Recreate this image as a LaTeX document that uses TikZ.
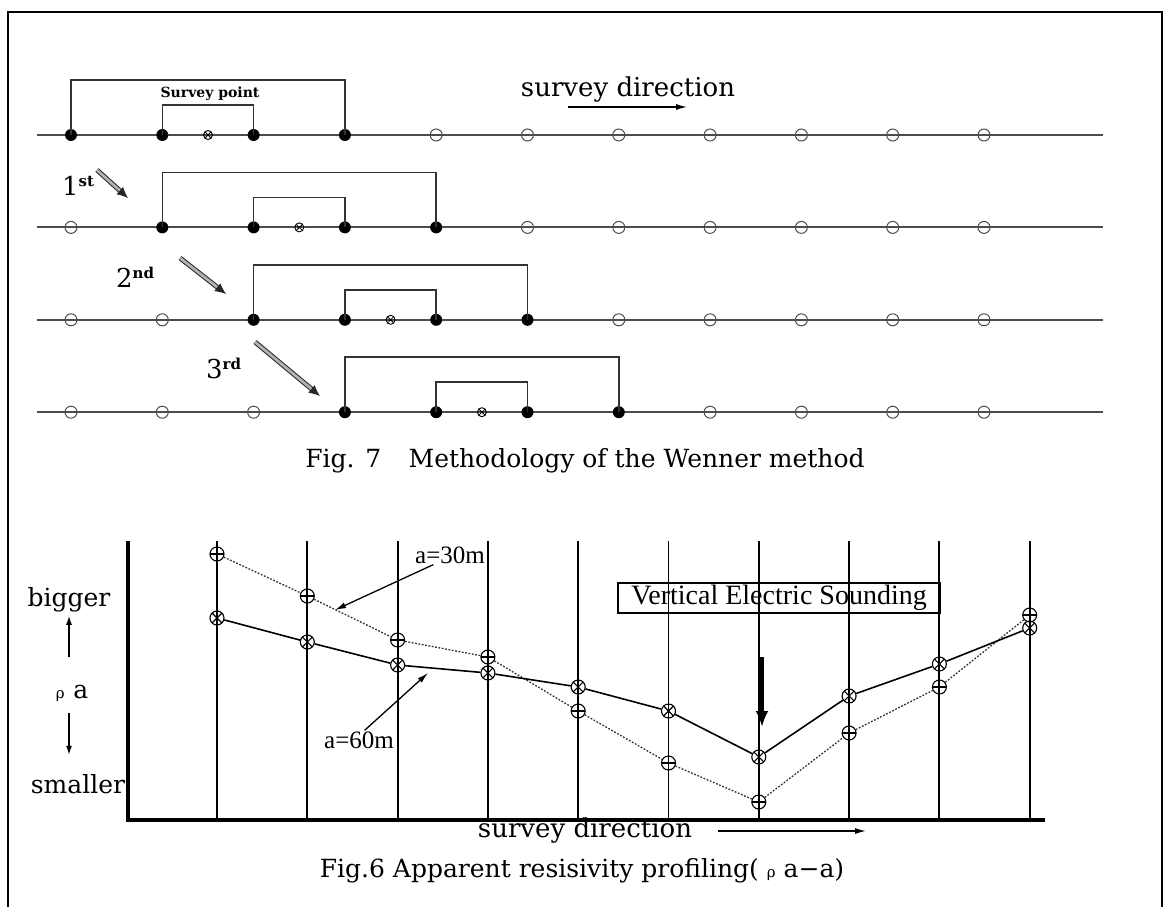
\documentclass[tikz,border=0pt]{standalone}
\usepackage{fontspec}
\setmainfont{DejaVu Serif}
\newfontfamily\tmsfont{Liberation Serif}
\usetikzlibrary{arrows.meta}

\begin{document}
\begin{tikzpicture}[x=1pt,y=-1pt,
  wire/.style={draw=black!70, line width=2pt},
  bracket/.style={draw=black!80, line width=1.5pt},
  elecon/.style={circle, fill=black, inner sep=0pt, minimum size=12pt},
  elecoff/.style={circle, draw=black!70, line width=1pt, inner sep=0pt, minimum size=12pt},
  spoint/.style={circle, draw, line width=0.9pt, inner sep=0pt, minimum size=9pt,
    path picture={\draw[line width=0.8pt] (path picture bounding box.south west) -- (path picture bounding box.north east)
      (path picture bounding box.north west) -- (path picture bounding box.south east);}},
  hollowarrow/.style={draw=black!85, line width=1pt, double=black!30, double distance=2.8pt, -{Latex[length=11pt,width=10pt]}},
  thinarrow/.style={line width=1.3pt, -{Latex[length=11pt,width=6pt]}},
  axisline/.style={line width=3.5pt},
  gridline/.style={line width=1.9pt},
  amark/.style={circle, draw, line width=1.1pt, inner sep=0pt, minimum size=14pt,
    path picture={\draw[line width=1.1pt] (path picture bounding box.west) -- (path picture bounding box.east);}},
  bmark/.style={circle, draw, line width=1.1pt, inner sep=0pt, minimum size=14pt,
    path picture={\draw[line width=1.1pt] (path picture bounding box.south west) -- (path picture bounding box.north east)
      (path picture bounding box.north west) -- (path picture bounding box.south east);}},
  dotline/.style={draw=black!80, line width=1.3pt, dash pattern=on 1.8pt off 1.6pt},
  fullline/.style={line width=1.6pt},
]
\useasboundingbox (0,0) rectangle (1165,907);
\draw[line width=1.5pt] (8,907) -- (8,12) -- (1162,12) -- (1162,907);

\foreach \r in {0,...,3}{
  \pgfmathsetmacro\yy{135+92.4*\r}
  \coordinate (L\r) at (37,\yy);
  \coordinate (R\r) at (1103,\yy);
  \draw[wire] (L\r) -- (R\r);
  \foreach \i in {0,...,10}{
    \pgfmathtruncatemacro\on{(\i>=\r)&&(\i<=\r+3)}
    \ifnum\on=1
      \node[elecon] (e\r-\i) at (71+91.3*\i,\yy) {};
    \else
      \node[elecoff] (e\r-\i) at (71+91.3*\i,\yy) {};
    \fi
  }
  \pgfmathtruncatemacro\ia{\r+1}
  \pgfmathtruncatemacro\ib{\r+2}
  \pgfmathtruncatemacro\ic{\r+3}
  \draw[bracket] (e\r-\r.center) -- ++(0,-55) -| (e\r-\ic.center);
  \draw[bracket] (e\r-\ia.center) -- ++(0,-30) -| (e\r-\ib.center);
  \node[spoint] (sp\r) at (71+91.3*\r+137,\yy) {};
}

\node[font=\bfseries\fontsize{14}{15}\selectfont] (sptext) at (210,94) {Survey point};
\node[font=\fontsize{26}{28}\selectfont] (dir1) at (628,90) {survey direction};
\coordinate (d1a) at (568,107);
\coordinate (d1b) at (687,107);
\draw[thinarrow] (d1a) -- (d1b);

\node[anchor=base west, inner sep=0pt, font=\fontsize{26}{28}\selectfont] (o1) at (62,195) {1\raisebox{9pt}{\bfseries\fontsize{15}{15}\selectfont st}};
\node[anchor=base west, inner sep=0pt, font=\fontsize{26}{28}\selectfont] (o2) at (116,287) {2\raisebox{9pt}{\bfseries\fontsize{15}{15}\selectfont nd}};
\node[anchor=base west, inner sep=0pt, font=\fontsize{26}{28}\selectfont] (o3) at (206,378) {3\raisebox{9pt}{\bfseries\fontsize{15}{15}\selectfont rd}};
\coordinate (s1a) at (97,170);
\coordinate (s1b) at (128,198);
\coordinate (s2a) at (180,258);
\coordinate (s2b) at (226,294);
\coordinate (s3a) at (255,342);
\coordinate (s3b) at (320,396);
\draw[hollowarrow] (s1a) -- (s1b);
\draw[hollowarrow] (s2a) -- (s2b);
\draw[hollowarrow] (s3a) -- (s3b);

\node[font=\fontsize{25}{27}\selectfont] (cap7) at (585,461) {Fig. 7\hspace{1.1em}Methodology of the Wenner method};

\coordinate (O) at (128,820);
\coordinate (yt) at (128,541);
\coordinate (xr) at (1045,820);
\foreach \k in {0,...,9}{
  \coordinate (gt\k) at (217+90.3*\k,541);
  \coordinate (gb\k) at (217+90.3*\k,820);
  \draw[gridline] (gt\k) -- (gb\k);
}
\draw[axisline] (yt) -- (O) -- (xr);

\foreach \k/\ya/\yb in {0/554/618, 1/596/642, 2/640/665, 3/657/673, 4/711/687,
    5/763/711, 6/802/757, 7/733/696, 8/687/664, 9/615/628}{
  \node[amark] (a\k) at (217+90.3*\k,\ya) {};
  \node[bmark] (b\k) at (217+90.3*\k,\yb) {};
}
\foreach \k [evaluate=\k as \n using int(\k+1)] in {0,...,8}{
  \draw[dotline] (a\k) -- (a\n);
  \draw[fullline] (b\k) -- (b\n);
}

\node[font=\tmsfont\fontsize{25}{27}\selectfont, inner sep=1pt] (a30) at (450,555) {a=30m};
\node[font=\tmsfont\fontsize{25}{27}\selectfont, inner sep=1pt] (a60) at (359,740) {a=60m};
\coordinate (c30) at (335,610);
\coordinate (c60) at (428,673);
\draw[thinarrow] (a30.210) -- (c30);
\draw[thinarrow] (a60.60) -- (c60);

\node[draw, line width=1.2pt, minimum width=322pt, minimum height=30pt, inner sep=0pt,
  font=\tmsfont\fontsize{28}{28}\selectfont] (ves) at (779,598) {Vertical Electric Sounding};
\coordinate (vs) at (762,657);
\coordinate (vt) at (762,727);
\draw[line width=3.2pt, -{Latex[length=16pt,width=13pt]}] (vs) -- (vt);

\node[font=\fontsize{25}{27}\selectfont] (big) at (69,600) {bigger};
\node[font=\fontsize{25}{27}\selectfont] (rho) at (72,693) {{\fontsize{15}{15}\selectfont ρ}\hspace{0.35em}a};
\node[font=\fontsize{25}{27}\selectfont] (small) at (78,784) {smaller};
\draw[line width=1.3pt, -{Latex[length=9pt,width=6pt]}, shorten <=24pt] (big.south |- rho.north) -- (big.south);
\draw[line width=1.3pt, -{Latex[length=9pt,width=6pt]}, shorten <=8pt, shorten >=16pt] (big.south |- rho.south) -- (big.south |- small.north);

\node[font=\fontsize{26}{28}\selectfont] (dir2) at (585,831) {survey direction};
\coordinate (d2b) at (866,831);
\draw[thinarrow, shorten <=22pt] (dir2.east) -- (d2b);

\node[font=\fontsize{25}{27}\selectfont] (cap6) at (582,871) {Fig.6 Apparent resisivity profiling( {\fontsize{15}{15}\selectfont ρ} a−a)};
\end{tikzpicture}
\end{document}
